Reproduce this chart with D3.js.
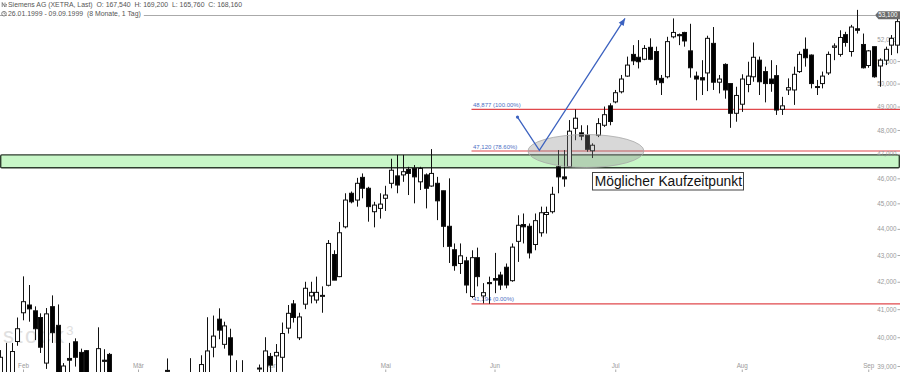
<!DOCTYPE html>
<html>
<head>
<meta charset="utf-8">
<style>
    body { margin: 0; background: #fff; }
    svg { display: block; font-family: "Liberation Sans", Arial, sans-serif; }
    .y-axis text, .x-axis text { font-size: 6.3px; fill: #9a9a9a; }
    .y-axis line, .x-axis line { stroke: #aaa; }
    .header { font-size: 6.9px; fill: #555; }
</style>
<script src="https://d3js.org/d3.v7.min.js"></script>
</head>
<body>
<svg width="900" height="372"></svg>
<script>
    // daily candles Siemens AG, 26.01.1999 - 09.09.1999 (index = trading day)
    const opens = [38.7, 38.4, 38.6, 39.85, 40.87, 41.15, 40.94, 40.7, 39.1, 41.09,
        40.42, 38.6, 39.26, 39.84, 39.47, 39.53, 38.6, 38.5, 39.2, 39.4,
        38.6, 38.1, 38.4, 37.9, 38.3, 38.0, 38.2, 38.5, 38.1, 38.85,
        38.7, 38.2, 38.5, 38.2, 38.6, 38.3, 38.7, 39.65, 40.64, 39.75,
        39.98, 38.75, 38.3, 38.6, 38.2, 38.9, 38.6, 39.33, 39.35, 39.3,
        40.32, 41.19, 39.98, 41.18, 41.48, 41.33, 41.48, 41.87, 43.02, 42.19,
        44.08, 45.4, 45.13, 46.04, 45.6, 44.67, 44.8, 45.2, 45.8, 46.1,
        46.14, 46.36, 46.4, 45.86, 46.14, 45.69, 45.8, 45.5, 44.1, 43.2,
        42.68, 42.78, 41.46, 42.9, 41.48, 41.97, 42.12, 42.25, 42.54, 42.04,
        43.52, 44.17, 44.1, 43.4, 43.85, 44.56, 44.67, 46.47, 46.06, 46.47,
        48.07, 47.88, 47.78, 47.13, 47.78, 48.2, 49.03, 49.2, 49.64, 50.33,
        51.3, 51.17, 51.08, 51.62, 51.43, 50.23, 50.3, 52.1, 52.2, 52.3,
        51.46, 50.33, 50.26, 50.47, 51.8, 50.06, 50.85, 50.0, 48.71, 49.1,
        49.96, 50.3, 51.04, 50.53, 50.2, 50.35, 48.88, 49.72, 49.72, 50.53,
        51.53, 51.27, 49.87, 50.0, 50.47, 51.62, 51.3, 52.2, 51.43, 52.47,
        51.75, 50.8, 51.65, 50.78, 51.04, 51.72, 51.72, 52.8];
    const highs = [39.55, 39.8, 39.8, 40.7, 42.2, 41.88, 41.1, 40.85, 41.04, 41.5,
        41.17, 39.1, 39.8, 39.96, 39.6, 39.55, 38.7, 40.35, 39.58, 39.45,
        38.7, 38.6, 38.6, 38.5, 38.6, 38.5, 38.7, 38.7, 38.6, 39.26,
        38.75, 38.7, 38.7, 39.27, 38.75, 39.37, 40.71, 40.77, 41.03, 40.55,
        40.3, 39.2, 39.2, 38.7, 38.7, 39.05, 40.0, 39.45, 39.76, 40.52,
        41.15, 41.33, 40.87, 42.0, 42.0, 42.19, 41.83, 43.57, 43.18, 44.27,
        45.4, 45.47, 46.02, 46.2, 45.66, 45.06, 45.4, 45.7, 46.8, 46.96,
        46.96, 46.47, 46.54, 46.47, 46.2, 47.2, 46.06, 45.5, 46.0, 43.44,
        43.44, 42.93, 43.18, 43.28, 41.95, 42.19, 43.08, 42.37, 42.68, 43.44,
        44.53, 44.6, 44.21, 44.6, 44.87, 44.87, 45.66, 47.16, 47.16, 48.42,
        48.877, 48.2, 48.2, 47.44, 48.5, 49.0, 49.14, 49.72, 50.38, 51.2,
        51.72, 51.95, 51.72, 52.03, 51.65, 50.38, 52.1, 52.95, 52.25, 52.33,
        52.7, 50.53, 51.04, 52.15, 52.55, 50.38, 50.9, 50.0, 49.86, 50.41,
        50.97, 51.84, 51.2, 50.75, 51.04, 50.82, 49.42, 50.23, 50.75, 51.43,
        52.07, 51.3, 50.16, 50.53, 51.43, 51.8, 52.4, 52.33, 52.65, 53.35,
        52.25, 51.5, 51.65, 51.12, 51.65, 52.18, 52.95, 53.6];
    const lows = [38.4, 38.2, 38.4, 39.7, 40.6, 40.55, 39.9, 39.45, 38.9, 39.8,
        38.3, 38.4, 38.5, 38.98, 38.4, 38.3, 38.0, 38.3, 38.6, 38.4,
        38.0, 37.9, 37.8, 37.7, 37.8, 37.8, 38.0, 38.0, 37.9, 38.5,
        38.1, 38.0, 38.0, 38.0, 38.1, 38.1, 38.5, 39.3, 39.93, 39.6,
        38.7, 38.2, 38.1, 38.0, 38.0, 38.5, 38.4, 38.6, 38.7, 38.8,
        40.13, 40.52, 39.9, 41.0, 41.21, 41.21, 40.87, 41.83, 42.06, 42.17,
        44.02, 45.0, 44.87, 45.2, 44.28, 44.06, 44.4, 44.7, 45.6, 45.4,
        45.86, 45.33, 45.0, 45.53, 44.8, 45.66, 44.34, 43.3, 42.7, 42.41,
        42.29, 41.58, 41.4, 41.83, 41.21, 41.194, 41.58, 41.7, 41.76, 42.0,
        42.74, 43.44, 42.87, 43.18, 43.7, 43.82, 44.6, 45.4, 45.66, 46.47,
        47.57, 47.57, 47.09, 46.83, 47.7, 48.13, 48.2, 49.14, 49.57, 50.3,
        50.82, 50.67, 51.04, 51.04, 49.94, 49.5, 50.23, 52.03, 51.72, 51.65,
        50.26, 49.27, 49.5, 49.67, 49.72, 49.57, 49.34, 48.09, 48.35, 48.77,
        49.62, 50.08, 49.5, 49.18, 49.64, 48.64, 48.64, 49.5, 49.07, 50.47,
        50.75, 49.79, 49.5, 49.79, 50.38, 51.04, 51.2, 51.65, 51.2, 52.25,
        50.67, 50.7, 50.26, 49.86, 50.82, 51.27, 51.35, 52.5];
    const closes = [39.3, 38.7, 39.5, 40.3, 41.27, 41.01, 40.3, 39.65, 40.83, 40.16,
        38.6, 39.0, 39.2, 39.3, 38.7, 38.6, 38.2, 39.6, 39.16, 38.7,
        38.2, 38.4, 38.0, 38.3, 38.0, 38.3, 38.5, 38.1, 38.4, 38.83,
        38.3, 38.5, 38.2, 38.7, 38.3, 39.05, 39.52, 40.04, 40.25, 40.4,
        39.38, 38.4, 38.7, 38.2, 38.5, 38.93, 39.52, 39.03, 39.47, 40.13,
        40.85, 40.7, 40.72, 41.76, 41.61, 41.61, 41.5, 43.44, 42.06, 43.85,
        45.13, 45.06, 45.8, 45.6, 44.87, 44.93, 44.97, 45.33, 46.33, 45.73,
        46.27, 46.2, 46.06, 46.4, 45.6, 46.2, 45.1, 44.1, 43.33, 42.6,
        42.97, 41.88, 42.9, 42.19, 41.6, 41.93, 42.06, 41.88, 41.88, 43.3,
        44.14, 44.08, 43.08, 44.32, 44.63, 44.64, 45.36, 46.06, 45.98, 47.95,
        48.5, 47.74, 47.19, 47.36, 48.27, 48.65, 48.36, 49.6, 50.2, 50.82,
        51.01, 50.97, 51.57, 51.08, 50.16, 50.04, 51.88, 52.3, 52.15, 51.91,
        50.7, 50.2, 50.16, 52.03, 50.06, 50.2, 49.72, 48.71, 49.48, 50.2,
        50.33, 51.17, 50.08, 50.0, 50.0, 48.85, 49.03, 49.82, 50.41, 51.3,
        51.15, 50.0, 49.85, 50.33, 51.3, 51.68, 52.07, 51.84, 52.55, 52.4,
        50.7, 51.46, 50.3, 51.04, 51.53, 52.03, 52.8, 53.1];

    const monthLabels = ["Feb", "Mär", "Apr", "Mai", "Jun", "Jul", "Aug", "Sep"];
    const monthStarts = [4, 24, 47, 67, 86, 107, 129, 151];
    const priceTicks = [39, 40, 41, 42, 43, 44, 45, 46, 47, 48, 49, 50, 51, 52];
    const lastPrice = 53.1;

    const fibStart = 82;
    const fibLevels = [48.877, 47.12, 41.194];
    const fibLabels = ["48,877 (100.00%)", "47,120 (78.60%)", "41,194 (0.00%)"];
    const zoneBounds = [46.43, 46.96];
    const arrowPoints = [[90, 48.55], [93.8, 47.15], [108.7, 52.95]];
    const ellipseCenter = [101.9, 47.12];
    const noteAnchor = [103, 46.25];
    const noteText = "Möglicher Kaufzeitpunkt";

    const candles = opens.map((o, i) => ({i: i, o: o, h: highs[i], l: lows[i], c: closes[i]}));

    const svg = d3.select("svg");
    const W = 900, H = 372;

    const x = d3.scaleLinear().domain([0, candles.length - 1]).range([0, 902.75]);
    const y = d3.scaleLog().domain([39, 53.1]).range([366, 15.2]);
    const de = d3.formatLocale({decimal: ",", thousands: ".", grouping: [3], currency: ["", "€"]});
    const fmt = de.format(".3f");
    const px = v => Math.round(v) + 0.5;

    // current price line
    svg.append("line")
        .attr("x1", 0).attr("x2", 875)
        .attr("y1", px(y(lastPrice))).attr("y2", px(y(lastPrice)))
        .attr("stroke", "#aaa").attr("stroke-width", 1);

    // watermark
    const wm = svg.append("text")
        .attr("x", 3).attr("y", 343)
        .attr("fill", "#e0e0e0")
        .style("font-size", "22px")
        .style("letter-spacing", "2.4px")
        .text("stock");
    wm.append("tspan").attr("dy", -8).style("font-size", "13px").text("3");

    // resistance zone
    svg.append("rect")
        .attr("x", 0.7).attr("width", W - 1.4)
        .attr("y", y(zoneBounds[1])).attr("height", y(zoneBounds[0]) - y(zoneBounds[1]))
        .attr("rx", 1)
        .attr("fill", "#c8f7c8")
        .attr("stroke", "#2f3d2f").attr("stroke-width", 1.4);

    // fibonacci lines
    svg.selectAll(".fib")
        .data(fibLevels)
        .join("line")
        .attr("class", "fib")
        .attr("x1", x(fibStart)).attr("x2", W)
        .attr("y1", d => y(d)).attr("y2", d => y(d))
        .attr("stroke", "#e0484c").attr("stroke-width", 1.2);

    svg.selectAll(".fib-label")
        .data(fibLevels)
        .join("text")
        .attr("class", "fib-label")
        .attr("x", x(fibStart) + 1.5)
        .attr("y", d => y(d) - 2.5)
        .attr("fill", "#4d6fc4")
        .style("font-size", "6px")
        .text((d, i) => fibLabels[i]);

    // axes
    const yAxis = d3.axisLeft(y).tickValues(priceTicks).tickFormat(fmt).tickSize(2.5).tickPadding(1);
    svg.append("g").attr("class", "y-axis")
        .attr("transform", `translate(${W},0)`)
        .call(yAxis)
        .call(g => g.select(".domain").remove())
        .call(g => g.selectAll("text").attr("font-family", null).attr("font-size", null));

    const xAxis = d3.axisTop(x).tickValues(monthStarts).tickFormat((d, i) => monthLabels[i]).tickSize(2.5).tickPadding(1.5);
    svg.append("g").attr("class", "x-axis")
        .attr("transform", `translate(0,${H})`)
        .call(xAxis)
        .call(g => g.select(".domain").remove())
        .call(g => g.selectAll("text").attr("font-family", null).attr("font-size", null));

    // candles
    const bw = 4;
    const cg = svg.append("g");
    cg.selectAll(".wick")
        .data(candles)
        .join("line")
        .attr("class", "wick")
        .attr("x1", d => px(x(d.i))).attr("x2", d => px(x(d.i)))
        .attr("y1", d => y(d.h)).attr("y2", d => y(d.l))
        .attr("stroke", "#111").attr("stroke-width", 1);
    cg.selectAll(".body")
        .data(candles)
        .join("rect")
        .attr("class", "body")
        .attr("x", d => px(x(d.i)) - bw / 2)
        .attr("width", bw)
        .attr("y", d => y(Math.max(d.o, d.c)))
        .attr("height", d => Math.max(1, Math.abs(y(d.o) - y(d.c))))
        .attr("fill", d => d.c >= d.o ? "#fff" : "#000")
        .attr("stroke", "#111").attr("stroke-width", 1);

    // highlight ellipse
    svg.append("ellipse")
        .attr("cx", x(ellipseCenter[0])).attr("cy", y(ellipseCenter[1]))
        .attr("rx", 58).attr("ry", 16.5)
        .attr("fill", "#8a8a8a").attr("fill-opacity", 0.33)
        .attr("stroke", "#a8a8a8").attr("stroke-width", 0.8);

    // arrow
    const blue = "#3c62c0";
    svg.append("path")
        .attr("d", d3.line().x(d => x(d[0])).y(d => y(d[1]))(arrowPoints))
        .attr("fill", "none").attr("stroke", blue).attr("stroke-width", 1.3);
    svg.append("circle")
        .attr("cx", x(arrowPoints[0][0])).attr("cy", y(arrowPoints[0][1]))
        .attr("r", 1.6).attr("fill", blue);
    const pA = arrowPoints[1], pB = arrowPoints[2];
    const ang = Math.atan2(y(pB[1]) - y(pA[1]), x(pB[0]) - x(pA[0])) * 180 / Math.PI;
    svg.append("path")
        .attr("d", "M0,0L-7,-3L-7,3Z")
        .attr("transform", `translate(${x(pB[0])},${y(pB[1])}) rotate(${ang})`)
        .attr("fill", blue);

    // note box
    const nx = x(noteAnchor[0]), ny = y(noteAnchor[1]);
    svg.append("rect")
        .attr("x", px(nx)).attr("y", px(ny))
        .attr("width", 151).attr("height", 17.5)
        .attr("fill", "#fff").attr("stroke", "#444").attr("stroke-width", 1);
    svg.append("text")
        .attr("x", nx + 2.5).attr("y", ny + 14)
        .attr("fill", "#111")
        .style("font-size", "13.8px")
        .text(noteText);

    // last price tag
    const ly = y(lastPrice);
    svg.append("path")
        .attr("d", `M875,${ly}L878.5,${ly - 4}L900,${ly - 4}L900,${ly + 4}L878.5,${ly + 4}Z`)
        .attr("fill", "#6b6b6b");
    svg.append("text")
        .attr("x", 897.5).attr("y", ly + 2.2)
        .attr("text-anchor", "end")
        .attr("fill", "#fff")
        .style("font-size", "6.3px")
        .text(fmt(lastPrice));

    // header
    const h1 = svg.append("text").attr("class", "header").attr("x", 8).attr("y", 7)
        .style("white-space", "pre")
        .text("Siemens AG (XETRA, Last)  O: 167,540  H: 169,200  L: 165,760  C: 168,160");
    const h2bg = svg.append("rect").attr("x", 7).attr("y", 10).attr("height", 7.5).attr("fill", "#fff");
    const h2 = svg.append("text").attr("class", "header").attr("x", 8).attr("y", 16.4)
        .style("white-space", "pre")
        .text("26.01.1999 - 09.09.1999  (8 Monate, 1 Tag)");
    h2bg.attr("width", h2.node().getComputedTextLength() + 4);

    // header icons
    svg.append("path")
        .attr("d", "M2.2,7V2.5L5,7V2.5M5.8,4.5h1.2M5.8,6h1.2")
        .attr("fill", "none").attr("stroke", "#555").attr("stroke-width", 0.7);
    svg.append("circle").attr("cx", 4).attr("cy", 13.7).attr("r", 2.3)
        .attr("fill", "#fff").attr("stroke", "#555").attr("stroke-width", 0.7);
    svg.append("path").attr("d", "M4,12.3V13.8H5.2")
        .attr("fill", "none").attr("stroke", "#555").attr("stroke-width", 0.6);
</script>
</body>
</html>
